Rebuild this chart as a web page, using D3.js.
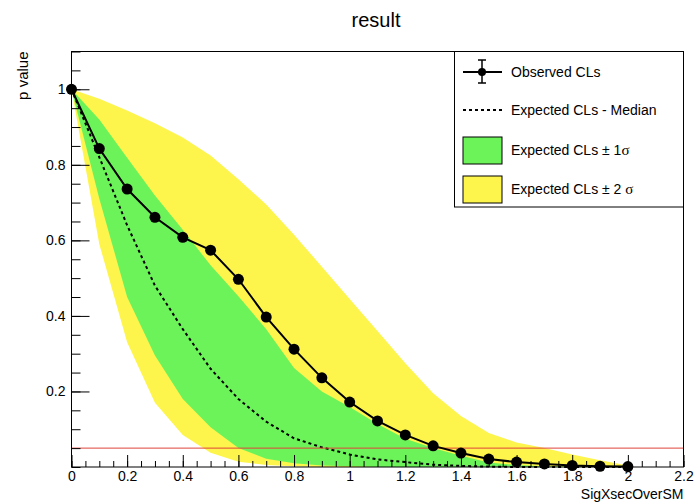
<!DOCTYPE html>
<html lang="en">
<head>
  <meta charset="UTF-8">
  <title>result</title>
  <style>
    body { margin: 0; background: #fff; }
    svg { font-family: "Liberation Sans", Arial, sans-serif; }
  </style>
</head>
<body>

  <section class="plot"></section>

  <script src="https://cdn.jsdelivr.net/npm/d3@7/dist/d3.min.js"></script>
  <script>
    // Data
    const xValues = [0, 0.1, 0.2, 0.3, 0.4, 0.5, 0.6, 0.7, 0.8, 0.9, 1.0,
                     1.1, 1.2, 1.3, 1.4, 1.5, 1.6, 1.7, 1.8, 1.9, 2.0];
    const observed = [1.0, 0.843, 0.736, 0.661, 0.608, 0.574, 0.497, 0.397, 0.312, 0.236, 0.172,
                      0.122, 0.085, 0.056, 0.037, 0.021, 0.013, 0.008, 0.004, 0.002, 0.001];
    const median = [1.0, 0.82, 0.64, 0.48, 0.365, 0.26, 0.18, 0.12, 0.076, 0.052, 0.033,
                    0.02, 0.013, 0.006, 0.003, 0.001, 0, 0, 0, 0, 0];
    const plus1 = [1.0, 0.92, 0.819, 0.719, 0.628, 0.534, 0.452, 0.365, 0.262, 0.2, 0.159,
                   0.114, 0.075, 0.05, 0.03, 0.012, 0.005, 0.002, 0.001, 0, 0];
    const minus1 = [1.0, 0.71, 0.45, 0.295, 0.18, 0.105, 0.05, 0.022, 0.01, 0.004, 0.002,
                    0, 0, 0, 0, 0, 0, 0, 0, 0, 0];
    const plus2 = [1.0, 0.975, 0.944, 0.91, 0.872, 0.825, 0.762, 0.695, 0.615, 0.53, 0.445,
                   0.36, 0.275, 0.195, 0.135, 0.09, 0.065, 0.05, 0.033, 0.018, 0.004];
    const minus2 = [1.0, 0.59, 0.33, 0.17, 0.085, 0.038, 0.014, 0.005, 0.002, 0, 0,
                    0, 0, 0, 0, 0, 0, 0, 0, 0, 0];
    const clsLevel = 0.05;

    const xTicks = [0, 0.2, 0.4, 0.6, 0.8, 1, 1.2, 1.4, 1.6, 1.8, 2, 2.2];
    const yTicks = [0.2, 0.4, 0.6, 0.8, 1];
    const legendLabels = ["Observed CLs", "Expected CLs - Median", "Expected CLs \u00b1 1", "Expected CLs \u00b1 2 "];

    const W = 694, H = 504;
    const frame = { left: 71.5, right: 683.5, top: 51.5, bottom: 467 };

    const svg = d3.select(".plot").append("svg")
      .attr("width", W).attr("height", H);

    const x = d3.scaleLinear().domain([0, 2.2]).range([frame.left, frame.right]);
    const y = d3.scaleLinear().domain([0, 1.1]).range([frame.bottom, frame.top]);

    const pts = (arr) => xValues.map((v, i) => ({ x: v, y: arr[i] }));
    const band = (lo, hi) => xValues.map((v, i) => ({ x: v, lo: lo[i], hi: hi[i] }));

    const area = d3.area().x(d => x(d.x)).y0(d => y(d.lo)).y1(d => y(d.hi));
    const line = d3.line().x(d => x(d.x)).y(d => y(d.y));

    const yellow = "#fdf54c", green = "#6cf35a";

    // bands
    svg.append("path").datum(band(minus2, plus2)).attr("d", area).attr("fill", yellow);
    svg.append("path").datum(band(minus1, plus1)).attr("fill", green).attr("d", area);

    // median
    svg.append("path").datum(pts(median)).attr("d", line)
      .attr("fill", "none").attr("stroke", "#000").attr("stroke-width", 2)
      .attr("stroke-dasharray", "3,3");

    // red line at 0.05
    svg.append("line")
      .attr("x1", frame.left).attr("x2", frame.right)
      .attr("y1", y(clsLevel)).attr("y2", y(clsLevel))
      .attr("stroke", "#e0443a").attr("stroke-width", 1);

    // frame
    svg.append("rect")
      .attr("x", frame.left).attr("y", frame.top)
      .attr("width", frame.right - frame.left).attr("height", frame.bottom - frame.top)
      .attr("fill", "none").attr("stroke", "#000").attr("stroke-width", 1);

    // axes
    const yMinor = d3.range(0, 1.1001, 0.05);
    svg.append("g").attr("transform", `translate(${frame.left},0)`)
      .call(d3.axisLeft(y).tickValues(yMinor).tickSize(-9).tickFormat(""))
      .call(g => g.select(".domain").remove());
    svg.append("g").attr("transform", `translate(${frame.left},0)`)
      .call(d3.axisLeft(y).tickValues(yTicks).tickSize(-18).tickPadding(6).tickFormat(d3.format("")))
      .call(g => g.select(".domain").remove())
      .call(g => g.selectAll("text").attr("font-size", 14).attr("font-family", "Liberation Sans"));

    const xMinor = d3.range(0, 2.2001, 0.05);
    svg.append("g").attr("transform", `translate(0,${frame.bottom})`)
      .call(d3.axisBottom(x).tickValues(xMinor).tickSize(-6).tickFormat(""))
      .call(g => g.select(".domain").remove());
    svg.append("g").attr("transform", `translate(0,${frame.bottom})`)
      .call(d3.axisBottom(x).tickValues(xTicks).tickSize(-12).tickPadding(4).tickFormat(d3.format("")))
      .call(g => g.select(".domain").remove())
      .call(g => g.selectAll("text").attr("font-size", 14).attr("font-family", "Liberation Sans"));

    // observed
    svg.append("path").datum(pts(observed)).attr("d", line)
      .attr("fill", "none").attr("stroke", "#000").attr("stroke-width", 2);
    svg.append("g").selectAll("circle").data(pts(observed)).enter()
      .append("circle")
        .attr("cx", d => x(d.x)).attr("cy", d => y(d.y)).attr("r", 5.5)
        .attr("fill", "#000");

    // titles
    svg.append("text").attr("x", 376).attr("y", 27).attr("text-anchor", "middle")
      .attr("font-size", 20).text("result");
    svg.append("text").attr("transform", `translate(28,${frame.top}) rotate(-90)`)
      .attr("text-anchor", "end").attr("font-size", 15).text("p value");
    svg.append("text").attr("x", frame.right).attr("y", 499).attr("text-anchor", "end")
      .attr("font-size", 14).text("SigXsecOverSM");

    // legend
    const lg = svg.append("g");
    lg.append("rect").attr("x", 454.5).attr("y", frame.top)
      .attr("width", frame.right - 454.5).attr("height", 207 - frame.top)
      .attr("fill", "#fff").attr("stroke", "#000");
    const rowY = [72, 110, 150, 189];
    // observed symbol
    lg.append("line").attr("x1", 463).attr("x2", 502).attr("y1", rowY[0]).attr("y2", rowY[0])
      .attr("stroke", "#000").attr("stroke-width", 2);
    lg.append("line").attr("x1", 482).attr("x2", 482).attr("y1", rowY[0] - 12).attr("y2", rowY[0] + 11)
      .attr("stroke", "#000").attr("stroke-width", 1.5);
    [rowY[0] - 12, rowY[0] + 11].forEach(v =>
      lg.append("line").attr("x1", 478).attr("x2", 486).attr("y1", v).attr("y2", v)
        .attr("stroke", "#000").attr("stroke-width", 1.5));
    lg.append("circle").attr("cx", 482).attr("cy", rowY[0]).attr("r", 4).attr("fill", "#000");
    // median symbol
    lg.append("line").attr("x1", 463).attr("x2", 502).attr("y1", rowY[1]).attr("y2", rowY[1])
      .attr("stroke", "#000").attr("stroke-width", 2).attr("stroke-dasharray", "3,3");
    // band symbols
    [[green, rowY[2]], [yellow, rowY[3]]].forEach(([c, v]) =>
      lg.append("rect").attr("x", 463).attr("y", v - 13).attr("width", 39).attr("height", 27)
        .attr("fill", c).attr("stroke", "#000").attr("stroke-width", 1));

    legendLabels.forEach((t, i) => {
      const tx = lg.append("text").attr("x", 511).attr("y", rowY[i]).attr("dy", "0.35em")
        .attr("font-size", 14).text(t);
      if (i >= 2) tx.append("tspan").attr("font-family", "Liberation Serif").attr("font-size", 15).text("\u03c3");
    });
  </script>
</body>
</html>
